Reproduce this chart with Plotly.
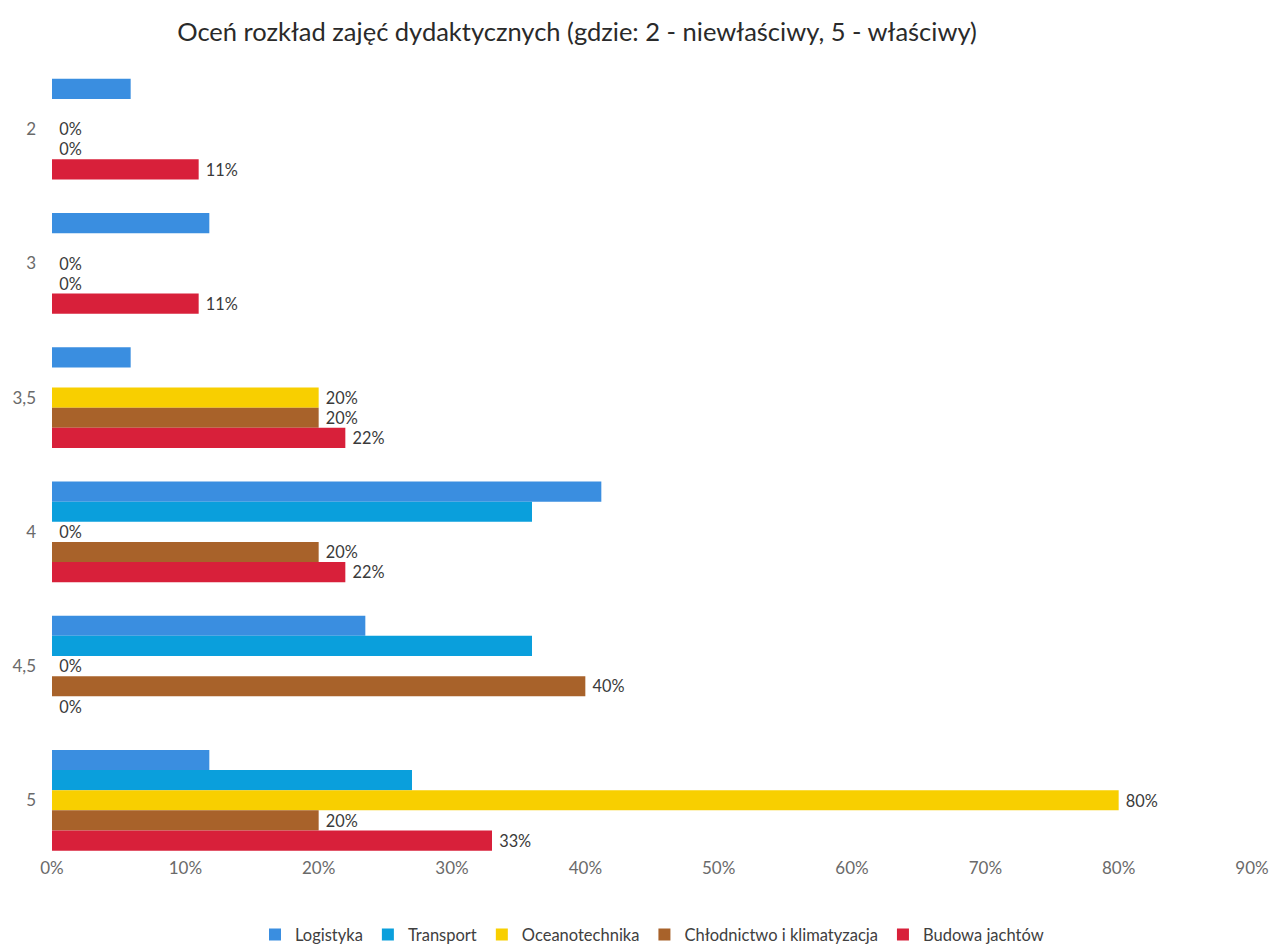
import plotly.graph_objects as go

categories = ["2", "3", "3,5", "4", "4,5", "5"]
series_names = ["Logistyka", "Transport", "Oceanotechnika", "Chłodnictwo i klimatyzacja", "Budowa jachtów"]
logistyka = [0.059, 0.118, 0.059, 0.412, 0.235, 0.118]
transport = [0.0, 0.0, 0.0, 0.36, 0.36, 0.27]
oceanotechnika = [0.0, 0.0, 0.20, 0.0, 0.0, 0.80]
chlodnictwo = [0.0, 0.0, 0.20, 0.20, 0.40, 0.20]
budowa = [0.11, 0.11, 0.22, 0.22, 0.0, 0.33]
x_ticks = [0, 0.1, 0.2, 0.3, 0.4, 0.5, 0.6, 0.7, 0.8, 0.9]
x_tick_labels = ["0%", "10%", "20%", "30%", "40%", "50%", "60%", "70%", "80%", "90%"]

values = [logistyka, transport, oceanotechnika, chlodnictwo, budowa]
colors = ["#3a8ee0", "#0a9fdc", "#f8cf00", "#a8622a", "#d8203a"]
show_labels = [False, False, True, True, True]

FONT = "Lato, 'Open Sans', sans-serif"

# page body has an 8px margin, so the figure is drawn 8px smaller
W, H = 1273, 938

fig = go.Figure()
for name, vals, col, lab in zip(series_names, values, colors, show_labels):
    fig.add_trace(go.Bar(
        y=categories, x=vals, name=name, orientation="h",
        marker=dict(color=col, line=dict(width=0)),
        text=["\u00a0" + f"{round(v*100)}%" for v in vals] if lab else None,
        textposition="outside" if lab else "none",
        textfont=dict(family=FONT, size=17, color="#3a3a3a"),
        cliponaxis=False,
    ))

fig.update_layout(
    width=W, height=H,
    paper_bgcolor="white", plot_bgcolor="white",
    barmode="group", bargap=0.25, bargroupgap=0,
    margin=dict(l=44, r=29, t=54, b=92, autoexpand=False),
    title=dict(text="Oceń rozkład zajęć dydaktycznych (gdzie: 2 - niewłaściwy, 5 - właściwy)",
               x=569/W, xanchor="center", xref="container",
               y=1-24/H, yanchor="middle", yref="container",
               font=dict(family=FONT, size=25.5, color="#2a2a2a")),
    font=dict(family=FONT, size=17, color="#595959"),
    xaxis=dict(range=[0, 0.9], tickvals=x_ticks, ticktext=x_tick_labels,
               showgrid=False, zeroline=False, showline=False, ticks="",
               automargin=False, ticklabelstandoff=2,
               tickfont=dict(family=FONT, size=17, color="#6a6a6a")),
    yaxis=dict(range=[5.4, -0.5], showgrid=False, zeroline=False, showline=False,
               ticks="", ticklabelstandoff=15, automargin=False,
               tickfont=dict(family=FONT, size=17, color="#6a6a6a")),
    legend=dict(orientation="h", x=0.5, xanchor="center", y=-0.102, yanchor="middle",
                font=dict(family=FONT, size=16.5, color="#404040"),
                itemwidth=30, traceorder="normal"),
)

fig.write_html("out.html")
